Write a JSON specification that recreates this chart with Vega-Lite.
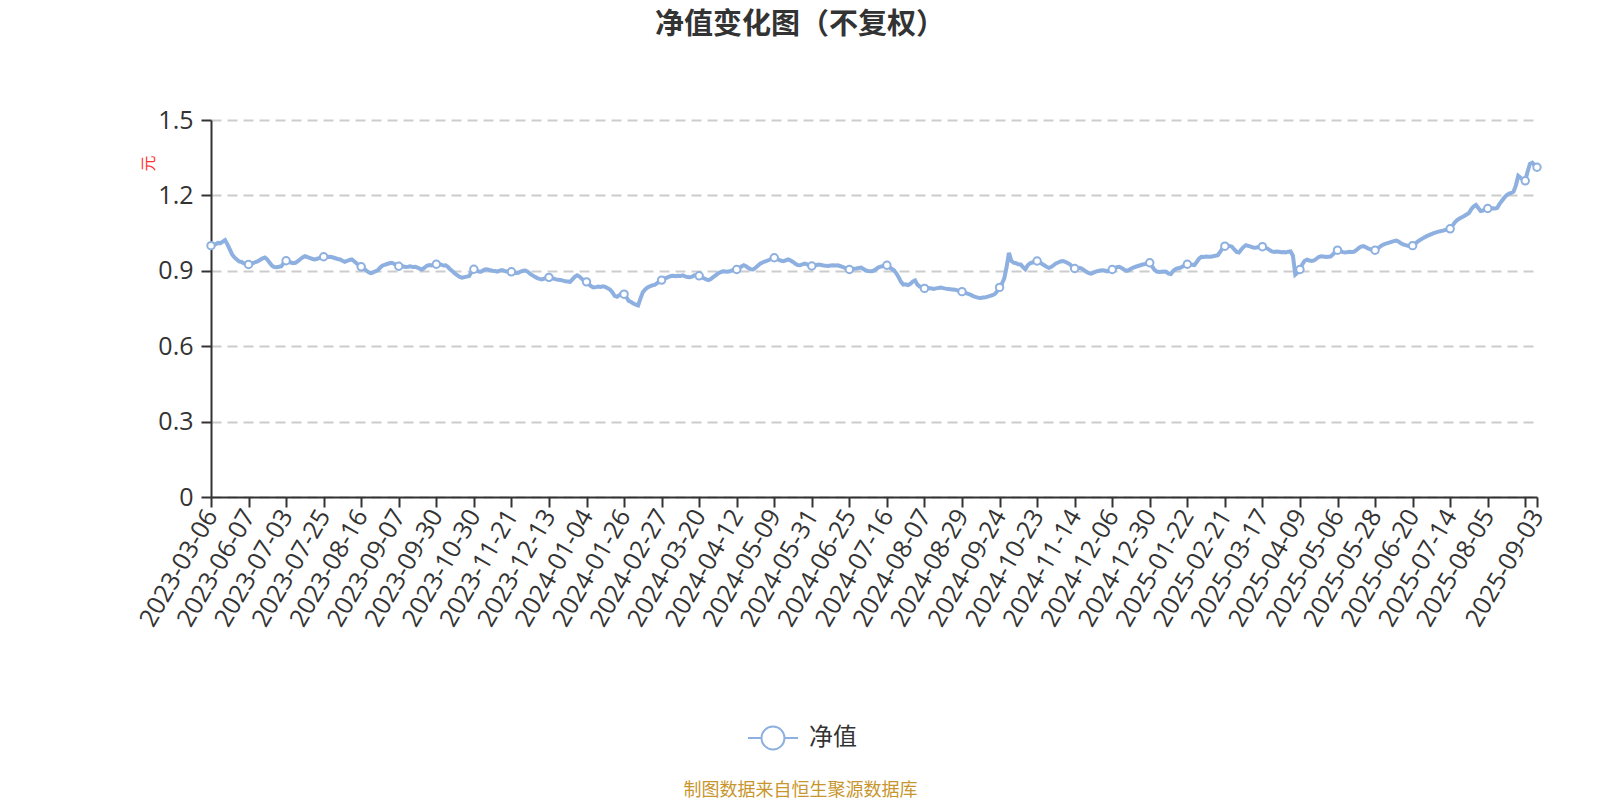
{
"$schema": "https://vega.github.io/schema/vega-lite/v6.json",
"width": 1326, "height": 377,
"autosize": {"type": "none"},
"padding": {"left": 211, "top": 120, "right": 63, "bottom": 303},
"background": "white",
"config": {"view": {"stroke": null}},
"title": {"text": "净值变化图（不复权）", "anchor": "middle", "frame": "group", "dx": -74, "offset": 68, "fontSize": 29, "fontWeight": "bold", "font": "Noto Sans CJK SC", "color": "#333333"},
"datasets": {"nav": [
{"d":"2023-03-06","v":1.000},{"d":"2023-03-10","v":1.003},{"d":"2023-03-17","v":1.006},{"d":"2023-03-24","v":1.011},{"d":"2023-03-31","v":1.010},{"d":"2023-04-07","v":1.016},{"d":"2023-04-14","v":1.022},{"d":"2023-04-21","v":1.005},{"d":"2023-04-28","v":0.985},{"d":"2023-05-05","v":0.965},{"d":"2023-05-12","v":0.953},{"d":"2023-05-19","v":0.945},{"d":"2023-05-26","v":0.937},{"d":"2023-06-02","v":0.935},{"d":"2023-06-05","v":0.930},{"d":"2023-06-06","v":0.928},
{"d":"2023-06-07","v":0.925},{"d":"2023-06-08","v":0.928},{"d":"2023-06-09","v":0.931},{"d":"2023-06-12","v":0.935},{"d":"2023-06-13","v":0.938},{"d":"2023-06-14","v":0.944},{"d":"2023-06-15","v":0.950},{"d":"2023-06-16","v":0.953},{"d":"2023-06-19","v":0.945},{"d":"2023-06-20","v":0.932},{"d":"2023-06-21","v":0.920},{"d":"2023-06-26","v":0.915},{"d":"2023-06-27","v":0.914},{"d":"2023-06-28","v":0.916},{"d":"2023-06-29","v":0.918},{"d":"2023-06-30","v":0.932},
{"d":"2023-07-03","v":0.940},{"d":"2023-07-04","v":0.936},{"d":"2023-07-05","v":0.933},{"d":"2023-07-06","v":0.930},{"d":"2023-07-07","v":0.932},{"d":"2023-07-10","v":0.938},{"d":"2023-07-11","v":0.946},{"d":"2023-07-12","v":0.953},{"d":"2023-07-13","v":0.958},{"d":"2023-07-14","v":0.955},{"d":"2023-07-17","v":0.951},{"d":"2023-07-18","v":0.948},{"d":"2023-07-19","v":0.945},{"d":"2023-07-20","v":0.947},{"d":"2023-07-21","v":0.950},{"d":"2023-07-24","v":0.954},
{"d":"2023-07-25","v":0.956},{"d":"2023-07-26","v":0.958},{"d":"2023-07-27","v":0.955},{"d":"2023-07-28","v":0.956},{"d":"2023-07-31","v":0.953},{"d":"2023-08-01","v":0.950},{"d":"2023-08-02","v":0.947},{"d":"2023-08-03","v":0.945},{"d":"2023-08-04","v":0.940},{"d":"2023-08-07","v":0.936},{"d":"2023-08-08","v":0.939},{"d":"2023-08-09","v":0.943},{"d":"2023-08-10","v":0.945},{"d":"2023-08-11","v":0.938},{"d":"2023-08-14","v":0.930},{"d":"2023-08-15","v":0.922},
{"d":"2023-08-16","v":0.916},{"d":"2023-08-17","v":0.910},{"d":"2023-08-18","v":0.902},{"d":"2023-08-21","v":0.895},{"d":"2023-08-22","v":0.891},{"d":"2023-08-23","v":0.893},{"d":"2023-08-24","v":0.898},{"d":"2023-08-25","v":0.902},{"d":"2023-08-28","v":0.912},{"d":"2023-08-29","v":0.920},{"d":"2023-08-30","v":0.924},{"d":"2023-08-31","v":0.927},{"d":"2023-09-01","v":0.930},{"d":"2023-09-04","v":0.932},{"d":"2023-09-05","v":0.928},{"d":"2023-09-06","v":0.922},
{"d":"2023-09-07","v":0.918},{"d":"2023-09-08","v":0.920},{"d":"2023-09-11","v":0.917},{"d":"2023-09-12","v":0.915},{"d":"2023-09-13","v":0.916},{"d":"2023-09-14","v":0.918},{"d":"2023-09-15","v":0.915},{"d":"2023-09-18","v":0.916},{"d":"2023-09-19","v":0.913},{"d":"2023-09-20","v":0.908},{"d":"2023-09-21","v":0.906},{"d":"2023-09-22","v":0.913},{"d":"2023-09-25","v":0.920},{"d":"2023-09-26","v":0.923},{"d":"2023-09-27","v":0.921},{"d":"2023-09-28","v":0.924},
{"d":"2023-09-30","v":0.926},{"d":"2023-10-09","v":0.928},{"d":"2023-10-10","v":0.925},{"d":"2023-10-11","v":0.921},{"d":"2023-10-12","v":0.922},{"d":"2023-10-13","v":0.915},{"d":"2023-10-16","v":0.905},{"d":"2023-10-17","v":0.897},{"d":"2023-10-18","v":0.889},{"d":"2023-10-19","v":0.882},{"d":"2023-10-20","v":0.876},{"d":"2023-10-23","v":0.873},{"d":"2023-10-24","v":0.875},{"d":"2023-10-25","v":0.877},{"d":"2023-10-26","v":0.879},{"d":"2023-10-27","v":0.895},
{"d":"2023-10-30","v":0.906},{"d":"2023-10-31","v":0.902},{"d":"2023-11-01","v":0.897},{"d":"2023-11-02","v":0.896},{"d":"2023-11-03","v":0.902},{"d":"2023-11-06","v":0.906},{"d":"2023-11-07","v":0.905},{"d":"2023-11-08","v":0.902},{"d":"2023-11-09","v":0.900},{"d":"2023-11-10","v":0.899},{"d":"2023-11-13","v":0.897},{"d":"2023-11-14","v":0.901},{"d":"2023-11-15","v":0.903},{"d":"2023-11-16","v":0.900},{"d":"2023-11-17","v":0.897},{"d":"2023-11-20","v":0.895},
{"d":"2023-11-21","v":0.896},{"d":"2023-11-22","v":0.893},{"d":"2023-11-23","v":0.891},{"d":"2023-11-24","v":0.892},{"d":"2023-11-27","v":0.897},{"d":"2023-11-28","v":0.900},{"d":"2023-11-29","v":0.901},{"d":"2023-11-30","v":0.896},{"d":"2023-12-01","v":0.888},{"d":"2023-12-04","v":0.882},{"d":"2023-12-05","v":0.876},{"d":"2023-12-06","v":0.871},{"d":"2023-12-07","v":0.868},{"d":"2023-12-08","v":0.866},{"d":"2023-12-11","v":0.869},{"d":"2023-12-12","v":0.872},
{"d":"2023-12-13","v":0.874},{"d":"2023-12-14","v":0.872},{"d":"2023-12-15","v":0.869},{"d":"2023-12-18","v":0.866},{"d":"2023-12-19","v":0.864},{"d":"2023-12-20","v":0.863},{"d":"2023-12-21","v":0.861},{"d":"2023-12-22","v":0.858},{"d":"2023-12-25","v":0.857},{"d":"2023-12-26","v":0.856},{"d":"2023-12-27","v":0.866},{"d":"2023-12-28","v":0.876},{"d":"2023-12-29","v":0.882},{"d":"2023-12-31","v":0.877},{"d":"2024-01-02","v":0.868},{"d":"2024-01-03","v":0.860},
{"d":"2024-01-04","v":0.856},{"d":"2024-01-05","v":0.846},{"d":"2024-01-08","v":0.838},{"d":"2024-01-09","v":0.834},{"d":"2024-01-10","v":0.835},{"d":"2024-01-11","v":0.837},{"d":"2024-01-12","v":0.836},{"d":"2024-01-15","v":0.838},{"d":"2024-01-16","v":0.836},{"d":"2024-01-17","v":0.831},{"d":"2024-01-18","v":0.825},{"d":"2024-01-19","v":0.815},{"d":"2024-01-22","v":0.800},{"d":"2024-01-23","v":0.797},{"d":"2024-01-24","v":0.803},{"d":"2024-01-25","v":0.810},
{"d":"2024-01-26","v":0.807},{"d":"2024-01-29","v":0.795},{"d":"2024-01-30","v":0.780},{"d":"2024-01-31","v":0.776},{"d":"2024-02-01","v":0.770},{"d":"2024-02-02","v":0.765},{"d":"2024-02-05","v":0.762},{"d":"2024-02-06","v":0.790},{"d":"2024-02-07","v":0.815},{"d":"2024-02-08","v":0.826},{"d":"2024-02-19","v":0.834},{"d":"2024-02-20","v":0.838},{"d":"2024-02-21","v":0.842},{"d":"2024-02-22","v":0.844},{"d":"2024-02-23","v":0.850},{"d":"2024-02-26","v":0.858},
{"d":"2024-02-27","v":0.863},{"d":"2024-02-28","v":0.868},{"d":"2024-02-29","v":0.872},{"d":"2024-03-01","v":0.876},{"d":"2024-03-04","v":0.879},{"d":"2024-03-05","v":0.880},{"d":"2024-03-06","v":0.878},{"d":"2024-03-07","v":0.880},{"d":"2024-03-08","v":0.879},{"d":"2024-03-11","v":0.882},{"d":"2024-03-12","v":0.878},{"d":"2024-03-13","v":0.875},{"d":"2024-03-14","v":0.874},{"d":"2024-03-15","v":0.877},{"d":"2024-03-18","v":0.882},{"d":"2024-03-19","v":0.880},
{"d":"2024-03-20","v":0.880},{"d":"2024-03-21","v":0.876},{"d":"2024-03-22","v":0.870},{"d":"2024-03-25","v":0.866},{"d":"2024-03-26","v":0.863},{"d":"2024-03-27","v":0.867},{"d":"2024-03-28","v":0.875},{"d":"2024-03-29","v":0.882},{"d":"2024-03-31","v":0.889},{"d":"2024-04-01","v":0.894},{"d":"2024-04-02","v":0.898},{"d":"2024-04-03","v":0.897},{"d":"2024-04-08","v":0.896},{"d":"2024-04-09","v":0.898},{"d":"2024-04-10","v":0.902},{"d":"2024-04-11","v":0.904},
{"d":"2024-04-12","v":0.905},{"d":"2024-04-15","v":0.910},{"d":"2024-04-16","v":0.917},{"d":"2024-04-17","v":0.922},{"d":"2024-04-18","v":0.918},{"d":"2024-04-19","v":0.911},{"d":"2024-04-22","v":0.906},{"d":"2024-04-23","v":0.905},{"d":"2024-04-24","v":0.912},{"d":"2024-04-25","v":0.920},{"d":"2024-04-26","v":0.928},{"d":"2024-04-29","v":0.933},{"d":"2024-04-30","v":0.937},{"d":"2024-05-06","v":0.940},{"d":"2024-05-07","v":0.944},{"d":"2024-05-08","v":0.949},
{"d":"2024-05-09","v":0.952},{"d":"2024-05-10","v":0.948},{"d":"2024-05-13","v":0.943},{"d":"2024-05-14","v":0.940},{"d":"2024-05-15","v":0.938},{"d":"2024-05-16","v":0.942},{"d":"2024-05-17","v":0.945},{"d":"2024-05-20","v":0.941},{"d":"2024-05-21","v":0.935},{"d":"2024-05-22","v":0.928},{"d":"2024-05-23","v":0.923},{"d":"2024-05-24","v":0.922},{"d":"2024-05-27","v":0.926},{"d":"2024-05-28","v":0.929},{"d":"2024-05-29","v":0.926},{"d":"2024-05-30","v":0.921},
{"d":"2024-05-31","v":0.919},{"d":"2024-06-03","v":0.921},{"d":"2024-06-04","v":0.923},{"d":"2024-06-05","v":0.925},{"d":"2024-06-06","v":0.923},{"d":"2024-06-07","v":0.921},{"d":"2024-06-11","v":0.920},{"d":"2024-06-12","v":0.919},{"d":"2024-06-13","v":0.921},{"d":"2024-06-14","v":0.922},{"d":"2024-06-17","v":0.921},{"d":"2024-06-18","v":0.922},{"d":"2024-06-19","v":0.919},{"d":"2024-06-20","v":0.916},{"d":"2024-06-21","v":0.912},{"d":"2024-06-24","v":0.907},
{"d":"2024-06-25","v":0.905},{"d":"2024-06-26","v":0.907},{"d":"2024-06-27","v":0.908},{"d":"2024-06-28","v":0.909},{"d":"2024-06-30","v":0.911},{"d":"2024-07-01","v":0.913},{"d":"2024-07-02","v":0.907},{"d":"2024-07-03","v":0.901},{"d":"2024-07-04","v":0.899},{"d":"2024-07-05","v":0.898},{"d":"2024-07-08","v":0.899},{"d":"2024-07-09","v":0.904},{"d":"2024-07-10","v":0.911},{"d":"2024-07-11","v":0.916},{"d":"2024-07-12","v":0.918},{"d":"2024-07-15","v":0.921},
{"d":"2024-07-16","v":0.922},{"d":"2024-07-17","v":0.915},{"d":"2024-07-18","v":0.908},{"d":"2024-07-19","v":0.902},{"d":"2024-07-22","v":0.890},{"d":"2024-07-23","v":0.874},{"d":"2024-07-24","v":0.856},{"d":"2024-07-25","v":0.845},{"d":"2024-07-26","v":0.846},{"d":"2024-07-29","v":0.843},{"d":"2024-07-30","v":0.848},{"d":"2024-07-31","v":0.857},{"d":"2024-08-01","v":0.862},{"d":"2024-08-02","v":0.845},{"d":"2024-08-05","v":0.837},{"d":"2024-08-06","v":0.832},
{"d":"2024-08-07","v":0.830},{"d":"2024-08-08","v":0.829},{"d":"2024-08-09","v":0.831},{"d":"2024-08-12","v":0.830},{"d":"2024-08-13","v":0.828},{"d":"2024-08-14","v":0.830},{"d":"2024-08-15","v":0.832},{"d":"2024-08-16","v":0.833},{"d":"2024-08-19","v":0.831},{"d":"2024-08-20","v":0.829},{"d":"2024-08-21","v":0.828},{"d":"2024-08-22","v":0.827},{"d":"2024-08-23","v":0.826},{"d":"2024-08-26","v":0.825},{"d":"2024-08-27","v":0.822},{"d":"2024-08-28","v":0.819},
{"d":"2024-08-29","v":0.817},{"d":"2024-08-30","v":0.814},{"d":"2024-09-02","v":0.810},{"d":"2024-09-03","v":0.807},{"d":"2024-09-04","v":0.803},{"d":"2024-09-05","v":0.798},{"d":"2024-09-06","v":0.795},{"d":"2024-09-09","v":0.793},{"d":"2024-09-10","v":0.792},{"d":"2024-09-11","v":0.794},{"d":"2024-09-12","v":0.795},{"d":"2024-09-13","v":0.797},{"d":"2024-09-18","v":0.800},{"d":"2024-09-19","v":0.803},{"d":"2024-09-20","v":0.808},{"d":"2024-09-23","v":0.818},
{"d":"2024-09-24","v":0.834},{"d":"2024-09-25","v":0.848},{"d":"2024-09-26","v":0.870},{"d":"2024-09-27","v":0.915},{"d":"2024-09-30","v":0.972},{"d":"2024-10-08","v":0.940},{"d":"2024-10-09","v":0.932},{"d":"2024-10-10","v":0.930},{"d":"2024-10-11","v":0.926},{"d":"2024-10-14","v":0.925},{"d":"2024-10-15","v":0.915},{"d":"2024-10-16","v":0.906},{"d":"2024-10-17","v":0.922},{"d":"2024-10-18","v":0.930},{"d":"2024-10-21","v":0.933},{"d":"2024-10-22","v":0.936},
{"d":"2024-10-23","v":0.939},{"d":"2024-10-24","v":0.934},{"d":"2024-10-25","v":0.928},{"d":"2024-10-28","v":0.922},{"d":"2024-10-29","v":0.916},{"d":"2024-10-30","v":0.912},{"d":"2024-10-31","v":0.915},{"d":"2024-11-01","v":0.922},{"d":"2024-11-04","v":0.929},{"d":"2024-11-05","v":0.933},{"d":"2024-11-06","v":0.937},{"d":"2024-11-07","v":0.939},{"d":"2024-11-08","v":0.936},{"d":"2024-11-11","v":0.931},{"d":"2024-11-12","v":0.926},{"d":"2024-11-13","v":0.915},
{"d":"2024-11-14","v":0.909},{"d":"2024-11-15","v":0.910},{"d":"2024-11-18","v":0.912},{"d":"2024-11-19","v":0.909},{"d":"2024-11-20","v":0.903},{"d":"2024-11-21","v":0.896},{"d":"2024-11-22","v":0.891},{"d":"2024-11-25","v":0.889},{"d":"2024-11-26","v":0.893},{"d":"2024-11-27","v":0.897},{"d":"2024-11-28","v":0.899},{"d":"2024-11-29","v":0.901},{"d":"2024-12-02","v":0.902},{"d":"2024-12-03","v":0.900},{"d":"2024-12-04","v":0.898},{"d":"2024-12-05","v":0.902},
{"d":"2024-12-06","v":0.905},{"d":"2024-12-09","v":0.910},{"d":"2024-12-10","v":0.914},{"d":"2024-12-11","v":0.916},{"d":"2024-12-12","v":0.911},{"d":"2024-12-13","v":0.905},{"d":"2024-12-16","v":0.900},{"d":"2024-12-17","v":0.902},{"d":"2024-12-18","v":0.908},{"d":"2024-12-19","v":0.913},{"d":"2024-12-20","v":0.916},{"d":"2024-12-23","v":0.919},{"d":"2024-12-24","v":0.922},{"d":"2024-12-25","v":0.925},{"d":"2024-12-26","v":0.927},{"d":"2024-12-27","v":0.930},
{"d":"2024-12-30","v":0.932},{"d":"2024-12-31","v":0.918},{"d":"2025-01-02","v":0.904},{"d":"2025-01-03","v":0.897},{"d":"2025-01-06","v":0.895},{"d":"2025-01-07","v":0.896},{"d":"2025-01-08","v":0.897},{"d":"2025-01-09","v":0.896},{"d":"2025-01-10","v":0.889},{"d":"2025-01-13","v":0.887},{"d":"2025-01-14","v":0.900},{"d":"2025-01-15","v":0.907},{"d":"2025-01-16","v":0.910},{"d":"2025-01-17","v":0.912},{"d":"2025-01-20","v":0.917},{"d":"2025-01-21","v":0.922},
{"d":"2025-01-22","v":0.926},{"d":"2025-01-23","v":0.925},{"d":"2025-01-24","v":0.924},{"d":"2025-01-27","v":0.923},{"d":"2025-02-05","v":0.935},{"d":"2025-02-06","v":0.948},{"d":"2025-02-07","v":0.956},{"d":"2025-02-10","v":0.955},{"d":"2025-02-11","v":0.957},{"d":"2025-02-12","v":0.956},{"d":"2025-02-13","v":0.956},{"d":"2025-02-14","v":0.958},{"d":"2025-02-17","v":0.960},{"d":"2025-02-18","v":0.962},{"d":"2025-02-19","v":0.975},{"d":"2025-02-20","v":0.990},
{"d":"2025-02-21","v":0.998},{"d":"2025-02-24","v":1.000},{"d":"2025-02-25","v":0.999},{"d":"2025-02-26","v":0.996},{"d":"2025-02-27","v":0.985},{"d":"2025-02-28","v":0.975},{"d":"2025-03-03","v":0.973},{"d":"2025-03-04","v":0.985},{"d":"2025-03-05","v":0.995},{"d":"2025-03-06","v":1.002},{"d":"2025-03-07","v":0.999},{"d":"2025-03-10","v":0.996},{"d":"2025-03-11","v":0.993},{"d":"2025-03-12","v":0.992},{"d":"2025-03-13","v":0.994},{"d":"2025-03-14","v":0.996},
{"d":"2025-03-17","v":0.996},{"d":"2025-03-18","v":0.993},{"d":"2025-03-19","v":0.989},{"d":"2025-03-20","v":0.983},{"d":"2025-03-21","v":0.977},{"d":"2025-03-24","v":0.975},{"d":"2025-03-25","v":0.977},{"d":"2025-03-26","v":0.976},{"d":"2025-03-27","v":0.974},{"d":"2025-03-28","v":0.975},{"d":"2025-03-31","v":0.973},{"d":"2025-04-01","v":0.976},{"d":"2025-04-02","v":0.977},{"d":"2025-04-03","v":0.960},{"d":"2025-04-07","v":0.885},{"d":"2025-04-08","v":0.893},
{"d":"2025-04-09","v":0.905},{"d":"2025-04-10","v":0.925},{"d":"2025-04-11","v":0.940},{"d":"2025-04-14","v":0.944},{"d":"2025-04-15","v":0.941},{"d":"2025-04-16","v":0.939},{"d":"2025-04-17","v":0.941},{"d":"2025-04-18","v":0.948},{"d":"2025-04-21","v":0.955},{"d":"2025-04-22","v":0.958},{"d":"2025-04-23","v":0.957},{"d":"2025-04-24","v":0.955},{"d":"2025-04-25","v":0.956},{"d":"2025-04-28","v":0.957},{"d":"2025-04-29","v":0.965},{"d":"2025-04-30","v":0.975},
{"d":"2025-05-06","v":0.982},{"d":"2025-05-07","v":0.979},{"d":"2025-05-08","v":0.975},{"d":"2025-05-09","v":0.973},{"d":"2025-05-12","v":0.974},{"d":"2025-05-13","v":0.976},{"d":"2025-05-14","v":0.975},{"d":"2025-05-15","v":0.976},{"d":"2025-05-16","v":0.982},{"d":"2025-05-19","v":0.990},{"d":"2025-05-20","v":0.996},{"d":"2025-05-21","v":0.998},{"d":"2025-05-22","v":0.994},{"d":"2025-05-23","v":0.989},{"d":"2025-05-26","v":0.985},{"d":"2025-05-27","v":0.983},
{"d":"2025-05-28","v":0.982},{"d":"2025-05-29","v":0.988},{"d":"2025-05-30","v":0.995},{"d":"2025-06-03","v":1.002},{"d":"2025-06-04","v":1.006},{"d":"2025-06-05","v":1.009},{"d":"2025-06-06","v":1.012},{"d":"2025-06-09","v":1.015},{"d":"2025-06-10","v":1.018},{"d":"2025-06-11","v":1.020},{"d":"2025-06-12","v":1.016},{"d":"2025-06-13","v":1.010},{"d":"2025-06-16","v":1.005},{"d":"2025-06-17","v":1.002},{"d":"2025-06-18","v":1.000},{"d":"2025-06-19","v":0.999},
{"d":"2025-06-20","v":1.000},{"d":"2025-06-23","v":1.006},{"d":"2025-06-24","v":1.015},{"d":"2025-06-25","v":1.022},{"d":"2025-06-26","v":1.027},{"d":"2025-06-27","v":1.033},{"d":"2025-06-30","v":1.038},{"d":"2025-07-01","v":1.042},{"d":"2025-07-02","v":1.046},{"d":"2025-07-03","v":1.050},{"d":"2025-07-04","v":1.053},{"d":"2025-07-07","v":1.056},{"d":"2025-07-08","v":1.058},{"d":"2025-07-09","v":1.060},{"d":"2025-07-10","v":1.063},{"d":"2025-07-11","v":1.065},
{"d":"2025-07-14","v":1.067},{"d":"2025-07-15","v":1.080},{"d":"2025-07-16","v":1.093},{"d":"2025-07-17","v":1.102},{"d":"2025-07-18","v":1.108},{"d":"2025-07-21","v":1.113},{"d":"2025-07-22","v":1.118},{"d":"2025-07-23","v":1.124},{"d":"2025-07-24","v":1.130},{"d":"2025-07-25","v":1.145},{"d":"2025-07-28","v":1.156},{"d":"2025-07-29","v":1.162},{"d":"2025-07-30","v":1.150},{"d":"2025-07-31","v":1.138},{"d":"2025-08-01","v":1.140},{"d":"2025-08-04","v":1.145},
{"d":"2025-08-05","v":1.148},{"d":"2025-08-06","v":1.147},{"d":"2025-08-07","v":1.149},{"d":"2025-08-08","v":1.148},{"d":"2025-08-11","v":1.150},{"d":"2025-08-12","v":1.165},{"d":"2025-08-13","v":1.178},{"d":"2025-08-14","v":1.190},{"d":"2025-08-15","v":1.200},{"d":"2025-08-18","v":1.206},{"d":"2025-08-19","v":1.210},{"d":"2025-08-20","v":1.215},{"d":"2025-08-21","v":1.240},{"d":"2025-08-22","v":1.278},{"d":"2025-08-25","v":1.270},{"d":"2025-08-26","v":1.262},
{"d":"2025-08-27","v":1.258},{"d":"2025-08-28","v":1.295},{"d":"2025-08-29","v":1.325},{"d":"2025-09-01","v":1.330},{"d":"2025-09-02","v":1.320},{"d":"2025-09-03","v":1.312}
]},
"data": {"name": "nav"},
"encoding": {
  "x": {"field": "d", "type": "ordinal", "scale": {"type": "point", "padding": 0},
    "axis": {
      "values": ["2023-03-06","2023-06-07","2023-07-03","2023-07-25","2023-08-16","2023-09-07","2023-09-30","2023-10-30","2023-11-21","2023-12-13","2024-01-04","2024-01-26","2024-02-27","2024-03-20","2024-04-12","2024-05-09","2024-05-31","2024-06-25","2024-07-16","2024-08-07","2024-08-29","2024-09-24","2024-10-23","2024-11-14","2024-12-06","2024-12-30","2025-01-22","2025-02-21","2025-03-17","2025-04-09","2025-05-06","2025-05-28","2025-06-20","2025-07-14","2025-08-05","2025-08-27","2025-09-03"],
      "labelExpr": "datum.value == '2025-08-27' ? '' : datum.value",
      "labelAngle": -60, "labelAlign": "right", "labelBaseline": "middle",
      "labelFontSize": 25, "labelFont": "Open Sans", "labelColor": "#333333", "labelPadding": 4,
      "labelOverlap": false, "labelBound": false, "labelFlush": false,
      "tickSize": 10, "tickWidth": 2, "tickColor": "#333333",
      "domainColor": "#333333", "domainWidth": 2, "grid": false,
      "title": "制图数据来自恒生聚源数据库", "titleX": 589, "titleY": 298, "titleAlign": "center", "titleBaseline": "alphabetic", "titleAngle": 0,
      "titleFontSize": 18, "titleFontWeight": "normal", "titleColor": "#c8962e", "titleFont": "Noto Sans CJK SC"
    }},
  "y": {"field": "v", "type": "quantitative", "scale": {"domain": [0, 1.5], "nice": false, "zero": true},
    "axis": {
      "values": [0, 0.3, 0.6, 0.9, 1.2, 1.5], "format": ".1~f",
      "labelFontSize": 25, "labelFont": "Open Sans", "labelColor": "#333333", "labelPadding": 8,
      "tickSize": 10, "tickWidth": 2, "tickColor": "#333333",
      "domainColor": "#333333", "domainWidth": 2,
      "grid": true, "gridColor": "#cccccc", "gridWidth": 2, "gridDash": [10, 6],
      "title": "元", "titleColor": "#ff3333", "titleFontSize": 16, "titleFontWeight": "normal", "titleFont": "Noto Sans CJK SC",
      "titleAngle": 270, "titleX": -63, "titleY": 43, "titleAlign": "center", "titleBaseline": "middle"
    }}
},
"layer": [
  {"mark": {"type": "line", "strokeWidth": 4, "interpolate": "linear"},
   "encoding": {"color": {"datum": "净值", "type": "nominal", "scale": {"range": ["#8eb0e0"]},
     "legend": {"orient": "none", "legendX": 536, "legendY": 592, "title": null,
       "symbolType": "M-1,0L-0.46,0M0.46,0L1,0M-0.46,0A0.46,0.46 0 1,1 0.46,0A0.46,0.46 0 1,1 -0.46,0",
       "symbolSize": 2500, "symbolStrokeWidth": 2, "symbolFillColor": "white", "symbolStrokeColor": "#8eb0e0",
       "labelFontSize": 24, "labelFont": "Noto Sans CJK SC", "labelColor": "#333333", "labelOffset": 10}}}},
  {"transform": [{"filter": {"field": "d", "oneOf": ["2023-03-06","2023-06-07","2023-07-03","2023-07-25","2023-08-16","2023-09-07","2023-09-30","2023-10-30","2023-11-21","2023-12-13","2024-01-04","2024-01-26","2024-02-27","2024-03-20","2024-04-12","2024-05-09","2024-05-31","2024-06-25","2024-07-16","2024-08-07","2024-08-29","2024-09-24","2024-10-23","2024-11-14","2024-12-06","2024-12-30","2025-01-22","2025-02-21","2025-03-17","2025-04-09","2025-05-06","2025-05-28","2025-06-20","2025-07-14","2025-08-05","2025-08-27","2025-09-03"]}}],
   "mark": {"type": "point", "shape": "circle", "filled": true, "fill": "white", "stroke": "#8eb0e0", "strokeWidth": 2, "size": 55, "opacity": 1}}
]
}
